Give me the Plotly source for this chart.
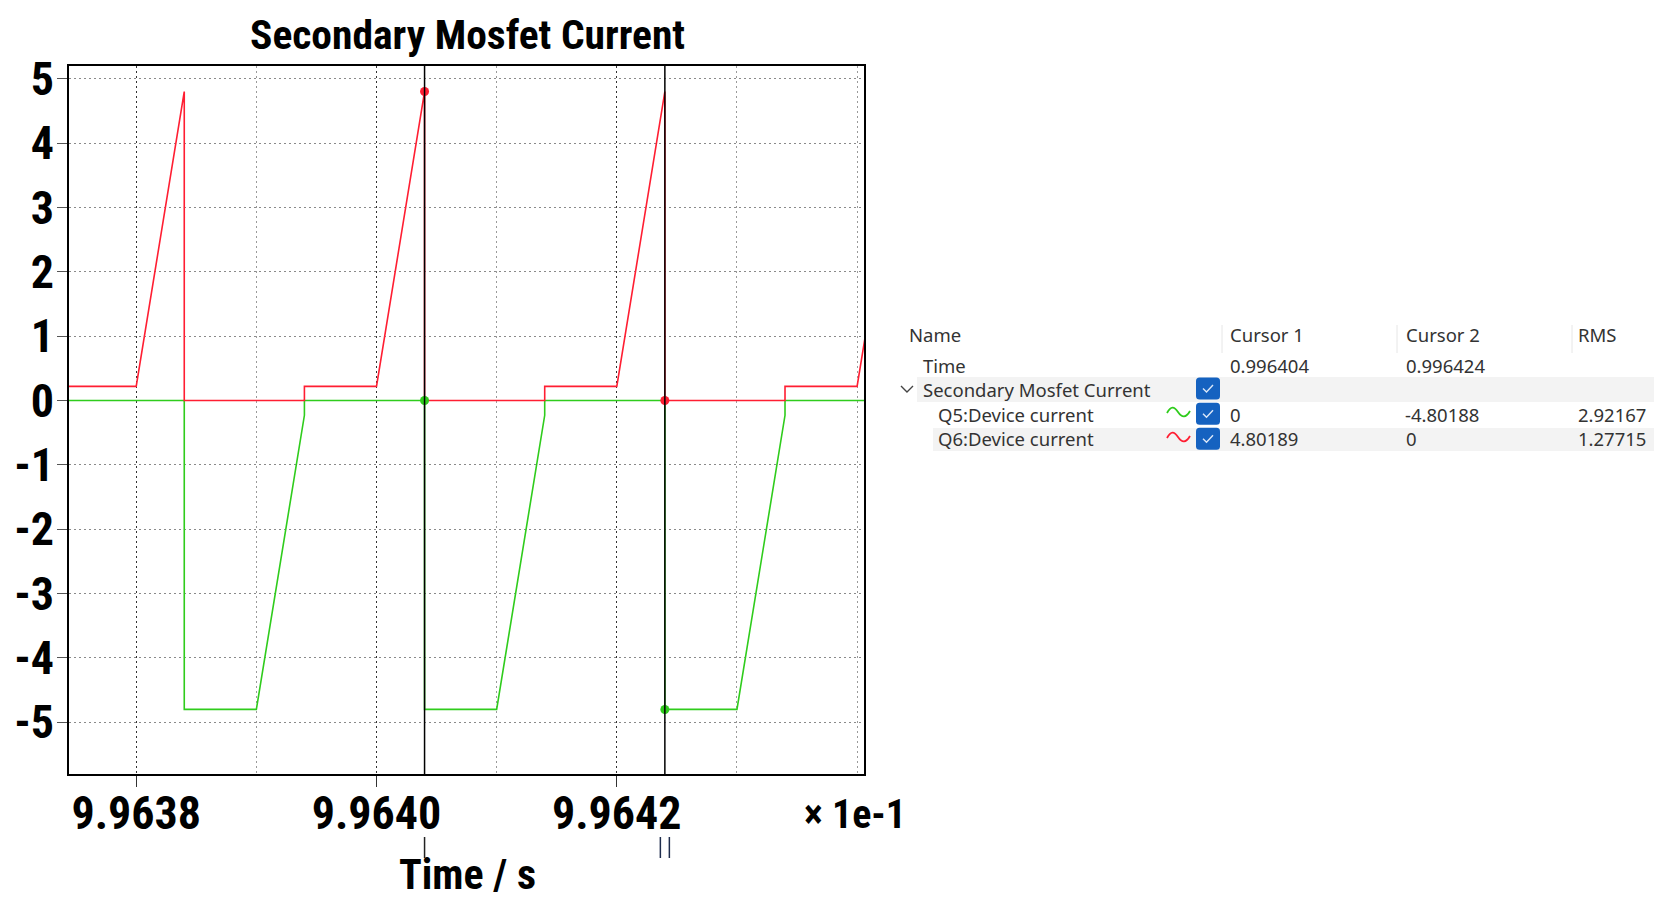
import plotly.graph_objects as go

# ---------------- data ----------------
# Q5 (green) device current breakpoints, time in seconds
q5_t = [0.996374, 0.996384, 0.996384, 0.996390, 0.996394, 0.996394, 0.996404, 0.996404,
        0.996410, 0.996414, 0.996414, 0.996424, 0.996424, 0.996430, 0.996434, 0.996434, 0.996444]
q5_i = [0, 0, -4.80, -4.80, -0.23, 0, 0, -4.80,
        -4.80, -0.23, 0, 0, -4.80, -4.80, -0.23, 0, 0]

# Q6 (red) device current breakpoints
q6_t = [0.996374, 0.996380, 0.996384, 0.996384, 0.996394, 0.996394, 0.996400, 0.996404, 0.996404,
        0.996414, 0.996414, 0.996420, 0.996424, 0.996424, 0.996434, 0.996434, 0.996440, 0.996444]
q6_i = [0.22, 0.22, 4.80, 0, 0, 0.22, 0.22, 4.80, 0,
        0, 0.22, 0.22, 4.80, 0, 0, 0.22, 0.22, 4.80]

cursor_t = [0.996404, 0.996424]
q5_at_cursor = [0, -4.80188]
q6_at_cursor = [4.80189, 0]

x_tick_vals = [0.99638, 0.99640, 0.99642]
x_tick_text = ["9.9638", "9.9640", "9.9642"]
x_minor_vals = [0.99639, 0.99641, 0.99643, 0.99644]
y_tick_vals = [-5, -4, -3, -2, -1, 0, 1, 2, 3, 4, 5]
y_tick_text = ["-5", "-4", "-3", "-2", "-1", "0", "1", "2", "3", "4", "5"]

table_header = ["Name", "Cursor 1", "Cursor 2", "RMS"]
time_row = ["Time", "0.996404", "0.996424", ""]
group_name = "Secondary Mosfet Current"
q5_row = ["Q5:Device current", "0", "-4.80188", "2.92167"]
q6_row = ["Q6:Device current", "4.80189", "0", "1.27715"]

# ---------------- styling ----------------
W, H = 1662, 901
OFF = 8  # page body margin
RED = "#ff1e32"
GREEN = "#2fcc1c"
BIG_FONT = "Roboto Condensed, Liberation Sans Narrow, DejaVu Sans Condensed, sans-serif"
UI_FONT = "Noto Sans, Open Sans, DejaVu Sans, sans-serif"


def px(x):
    return (x - OFF) / W


def py(y):
    return 1 - (y - OFF) / H


fig = go.Figure()
fig.add_trace(go.Scatter(x=q5_t, y=q5_i, mode="lines", line=dict(color=GREEN, width=1.6),
                         name="Q5:Device current", showlegend=False))
fig.add_trace(go.Scatter(x=q6_t, y=q6_i, mode="lines", line=dict(color=RED, width=1.6),
                         name="Q6:Device current", showlegend=False))
fig.add_trace(go.Scatter(x=cursor_t, y=q5_at_cursor, mode="markers",
                         marker=dict(color=GREEN, size=9), showlegend=False))
fig.add_trace(go.Scatter(x=cursor_t, y=q6_at_cursor, mode="markers",
                         marker=dict(color=RED, size=9), showlegend=False))

shapes = []
# cursor lines
for ct in cursor_t:
    shapes.append(dict(type="line", xref="x", yref="y domain", x0=ct, x1=ct, y0=0, y1=1,
                       line=dict(color="black", width=1.5), layer="above"))
# cursor indicators under the axis
shapes.append(dict(type="line", xref="x", yref="paper", x0=cursor_t[0], x1=cursor_t[0],
                   y0=py(837), y1=py(858), line=dict(color="#222", width=1.5)))
for off in (-4.5, 4.5):
    shapes.append(dict(type="line", xref="x", yref="paper", xsizemode="pixel", xanchor=cursor_t[1],
                       x0=off, x1=off, y0=py(837), y1=py(858), line=dict(color="#1f2d4d", width=1.5)))

# table backgrounds
shapes.append(dict(type="rect", xref="paper", yref="paper", x0=px(917), x1=1, y0=py(402), y1=py(377),
                   fillcolor="#f3f3f3", line=dict(width=0), layer="below"))
shapes.append(dict(type="rect", xref="paper", yref="paper", x0=px(933), x1=1, y0=py(451), y1=py(428),
                   fillcolor="#f3f3f3", line=dict(width=0), layer="below"))
# header separators
for sx in (1222, 1397, 1572):
    shapes.append(dict(type="line", xref="paper", yref="paper", x0=px(sx), x1=px(sx),
                       y0=py(325), y1=py(353), line=dict(color="#e6e6e6", width=1)))


def rounded_box(x0, y0, x1, y1, r=3.5):
    pts = (f"M {px(x0 + r)},{py(y0)} L {px(x1 - r)},{py(y0)} Q {px(x1)},{py(y0)} {px(x1)},{py(y0 + r)} "
           f"L {px(x1)},{py(y1 - r)} Q {px(x1)},{py(y1)} {px(x1 - r)},{py(y1)} "
           f"L {px(x0 + r)},{py(y1)} Q {px(x0)},{py(y1)} {px(x0)},{py(y1 - r)} "
           f"L {px(x0)},{py(y0 + r)} Q {px(x0)},{py(y0)} {px(x0 + r)},{py(y0)} Z")
    return pts


for cy in (388.5, 413.7, 438.7):
    shapes.append(dict(type="path", xref="paper", yref="paper",
                       path=rounded_box(1196, cy - 11, 1220, cy + 11),
                       fillcolor="#1562c0", line=dict(width=0)))
    cx = 1208
    shapes.append(dict(type="path", xref="paper", yref="paper",
                       path=f"M {px(cx - 5)},{py(cy)} L {px(cx - 1.5)},{py(cy + 3.5)} L {px(cx + 5)},{py(cy - 3.5)}",
                       line=dict(color="#dce8f8", width=1.4)))

# wave icons
for cy, col in ((412, GREEN), (437, RED)):
    shapes.append(dict(type="path", xref="paper", yref="paper",
                       path=(f"M {px(1167)},{py(cy + 1)} C {px(1171)},{py(cy - 6)} {px(1174)},{py(cy - 6)} "
                             f"{px(1178)},{py(cy)} C {px(1182)},{py(cy + 6)} {px(1186)},{py(cy + 6)} {px(1190)},{py(cy - 1)}"),
                       line=dict(color=col, width=1.8)))
# chevron
shapes.append(dict(type="path", xref="paper", yref="paper",
                   path=f"M {px(901)},{py(386)} L {px(907)},{py(392)} L {px(913)},{py(386)}",
                   line=dict(color="#444", width=1.4)))

annotations = []
# chart title, axis title, multiplier
annotations.append(dict(text="Secondary Mosfet Current", x=px(467), y=py(34), xref="paper", yref="paper",
                        xanchor="center", yanchor="middle", showarrow=False,
                        font=dict(family=BIG_FONT, size=41.5, color="black", weight="bold")))
annotations.append(dict(text="Time / s", x=px(467), y=py(874), xref="paper", yref="paper",
                        xanchor="center", yanchor="middle", showarrow=False,
                        font=dict(family=BIG_FONT, size=42, color="black", weight="bold")))
annotations.append(dict(text="× 1e-1", x=px(855), y=py(814), xref="paper", yref="paper",
                        xanchor="center", yanchor="middle", showarrow=False,
                        font=dict(family=BIG_FONT, size=40, color="black", weight="bold")))


def ui_text(txt, x, y, color="#333333"):
    annotations.append(dict(text=txt, x=px(x), y=py(y), xref="paper", yref="paper",
                            xanchor="left", yanchor="middle", showarrow=False,
                            font=dict(family=UI_FONT, size=18.5, color=color)))


col_x = [907, 1228, 1404, 1576]
for t, x in zip(table_header, col_x):
    ui_text(t, x, 334.5)
row_x = [921, 1228, 1404, 1576]
for t, x in zip(time_row, row_x):
    if t:
        ui_text(t, x, 365)
ui_text(group_name, 921, 389)
val_x = [936, 1228, 1403, 1576]
for t, x in zip(q5_row, val_x):
    ui_text(t, x, 414)
for t, x in zip(q6_row, [936, 1228, 1404, 1576]):
    ui_text(t, x, 438.5)

fig.update_layout(
    width=W, height=H, autosize=False,
    margin=dict(l=0, r=0, t=0, b=0, pad=0),
    paper_bgcolor="white", plot_bgcolor="white",
    showlegend=False,
    shapes=shapes, annotations=annotations,
    xaxis=dict(
        domain=[px(69), px(864)],
        range=[0.996374407, 0.996440574],
        automargin=False,
        tickmode="array", tickvals=x_tick_vals, ticktext=x_tick_text,
        ticks="outside", ticklen=11, tickwidth=1, tickcolor="#333",
        showline=True, linecolor="black", linewidth=1.5, mirror=True,
        showgrid=True, gridcolor="#333", gridwidth=1, griddash="2px,3px",
        zeroline=False,
        minor=dict(tickmode="array", tickvals=x_minor_vals, showgrid=True, gridcolor="#9a9a9a",
                   griddash="2px,3px", gridwidth=1, ticks=""),
        tickfont=dict(family=BIG_FONT, size=46, color="black", weight="bold"),
        ticklabelstandoff=-13,
    ),
    yaxis=dict(
        domain=[py(774), py(66)],
        range=[-5.804, 5.198],
        automargin=False,
        tickmode="array", tickvals=y_tick_vals, ticktext=y_tick_text,
        ticks="outside", ticklen=10, tickwidth=1, tickcolor="#555",
        showline=True, linecolor="black", linewidth=1.5, mirror=True,
        showgrid=True, gridcolor="#8a8a8a", gridwidth=1, griddash="2px,3px",
        zeroline=False,
        tickfont=dict(family=BIG_FONT, size=46, color="black", weight="bold"),
        ticklabelstandoff=-6,
    ),
)

fig.write_html("out.html")
